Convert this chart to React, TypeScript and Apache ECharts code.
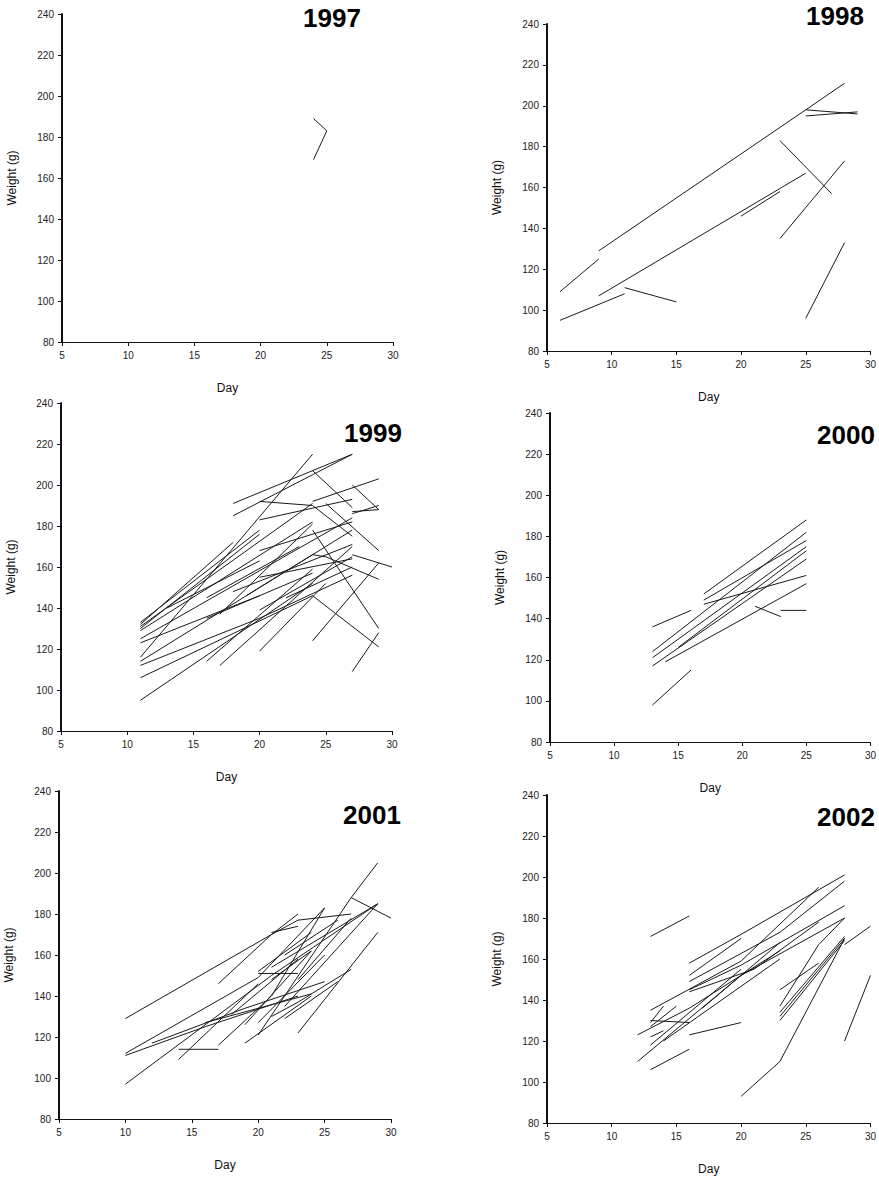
import { useEffect, useRef } from "react";
import * as echarts from "echarts";

// Individual growth tracks: each track is a list of [day, weight (g)] points.
const tracks1997 = [
  [[24, 169], [25, 183]],
  [[24, 189], [25, 183]],
];

const tracks1998 = [
  [[6, 109], [9, 125]],
  [[9, 129], [25, 198], [28, 211]],
  [[25, 198], [29, 196]],
  [[25, 195], [29, 197]],
  [[9, 107], [25, 167]],
  [[20, 146], [23, 158]],
  [[6, 95], [11, 108]],
  [[11, 111], [15, 104]],
  [[23, 183], [27, 157]],
  [[23, 135], [28, 173]],
  [[25, 96], [28, 133]],
];

const tracks1999 = [
  [[11, 95], [24, 152]],
  [[11, 106], [24, 146], [29, 121]],
  [[11, 112], [20, 135], [27, 156]],
  [[11, 114], [24, 166], [25, 165], [29, 154]],
  [[11, 116], [24, 215]],
  [[11, 133], [20, 178]],
  [[11, 132], [18, 172]],
  [[11, 131], [24, 191]],
  [[11, 130], [20, 176]],
  [[11, 129], [24, 182]],
  [[11, 125], [27, 184]],
  [[11, 123], [20, 146]],
  [[16, 114], [24, 159]],
  [[17, 112], [27, 170]],
  [[18, 191], [27, 215]],
  [[18, 185], [24, 205], [27, 215]],
  [[20, 192], [24, 190], [27, 175]],
  [[20, 183], [27, 193]],
  [[20, 168], [27, 182]],
  [[20, 119], [25, 152]],
  [[24, 207], [27, 189]],
  [[24, 192], [29, 203]],
  [[25, 191], [29, 168]],
  [[24, 178], [29, 130]],
  [[24, 124], [29, 162]],
  [[27, 109], [29, 128]],
  [[27, 166], [30, 160]],
  [[27, 200], [29, 188]],
  [[27, 186], [29, 190]],
  [[27, 187], [29, 188]],
  [[17, 137], [24, 181]],
  [[18, 148], [27, 171]],
  [[20, 139], [27, 165]],
  [[16, 135], [24, 157]],
  [[19, 146], [27, 178]],
  [[20, 155], [27, 164]],
  [[22, 145], [27, 160]],
  [[13, 140], [20, 163]],
  [[16, 145], [23, 170]],
];

const tracks2000 = [
  [[13, 136], [16, 144]],
  [[13, 98], [16, 115]],
  [[13, 124], [25, 182]],
  [[13, 121], [25, 175]],
  [[13, 117], [25, 169]],
  [[14, 119], [25, 157]],
  [[15, 126], [25, 173]],
  [[17, 152], [25, 188]],
  [[17, 149], [25, 178]],
  [[17, 147], [25, 161]],
  [[21, 146], [23, 141]],
  [[23, 144], [25, 144]],
];

const tracks2001 = [
  [[10, 129], [21, 170], [23, 177], [27, 180]],
  [[10, 112], [20, 149], [25, 183]],
  [[10, 111], [16, 125], [23, 140]],
  [[10, 97], [21, 150], [29, 185]],
  [[14, 114], [17, 114]],
  [[14, 109], [20, 146]],
  [[17, 146], [21, 170], [23, 180]],
  [[17, 116], [21, 140], [25, 183]],
  [[19, 117], [24, 140]],
  [[19, 126], [24, 162]],
  [[20, 151], [23, 151]],
  [[20, 152], [24, 171]],
  [[21, 130], [23, 137], [27, 153]],
  [[23, 122], [29, 171]],
  [[20, 121], [27, 188], [29, 205]],
  [[27, 188], [30, 178]],
  [[21, 154], [29, 185]],
  [[22, 135], [29, 185]],
  [[16, 127], [24, 141]],
  [[21, 171], [23, 174]],
  [[22, 160], [26, 177]],
  [[23, 148], [27, 178]],
  [[12, 117], [19, 134], [25, 147]],
  [[20, 127], [25, 160]],
  [[21, 148], [24, 162]],
  [[22, 129], [26, 147]],
  [[18, 131], [23, 158]],
];

const tracks2002 = [
  [[13, 171], [16, 181]],
  [[16, 158], [20, 172], [28, 201]],
  [[16, 152], [20, 170]],
  [[16, 149], [23, 173], [28, 198]],
  [[16, 145], [20, 157], [28, 186]],
  [[13, 135], [20, 159], [26, 195]],
  [[12, 123], [16, 136], [23, 164]],
  [[12, 110], [20, 152], [28, 180]],
  [[13, 130], [16, 129]],
  [[13, 129], [14, 137]],
  [[13, 127], [15, 137]],
  [[13, 122], [14, 125]],
  [[13, 118], [20, 155]],
  [[13, 106], [16, 116]],
  [[16, 123], [20, 129]],
  [[16, 144], [21, 155], [26, 178]],
  [[20, 93], [23, 110], [28, 170]],
  [[23, 145], [26, 158]],
  [[23, 137], [26, 167], [28, 180]],
  [[23, 134], [28, 171]],
  [[23, 132], [28, 170]],
  [[23, 130], [28, 169]],
  [[28, 120], [30, 152]],
  [[28, 167], [30, 176]],
  [[14, 120], [23, 160]],
  [[17, 136], [23, 168]],
];

const years = ["1997", "1998", "1999", "2000", "2001", "2002"];
const yearTracks = [tracks1997, tracks1998, tracks1999, tracks2000, tracks2001, tracks2002];

const dayRange = [5, 30];
const dayStep = 5;
const weightRange = [80, 240];
const weightStep = 20;

const xTitle = "Day";
const yTitle = "Weight (g)";

// Panel plot areas and year-label anchors (pixels)
const layouts = [
  { grid: { left: 62, top: 14, width: 331, height: 328 }, label: [332, 18] },
  { grid: { left: 547, top: 24, width: 327, height: 327 }, label: [835, 16] },
  { grid: { left: 61, top: 403, width: 331, height: 328 }, label: [373, 433] },
  { grid: { left: 550, top: 413, width: 327, height: 329 }, label: [846, 435] },
  { grid: { left: 59, top: 791, width: 332, height: 328 }, label: [372, 815] },
  { grid: { left: 547, top: 795, width: 327, height: 328 }, label: [846, 817] },
];

const FONT = "'Liberation Sans', Arial, Helvetica, sans-serif";

export default function App() {
  const ref = useRef<HTMLDivElement>(null);

  useEffect(() => {
    if (!ref.current) return;
    const chart = echarts.init(ref.current, null, { renderer: "svg" });

    const grids = layouts.map((l) => ({ ...l.grid, containLabel: false }));

    const xAxes = layouts.map((_, i) => ({
      type: "value",
      gridIndex: i,
      min: dayRange[0],
      max: dayRange[1],
      interval: dayStep,
      name: xTitle,
      nameLocation: "middle",
      nameGap: 40,
      nameTextStyle: { fontFamily: FONT, fontSize: 12, color: "#111" },
      axisLine: { show: true, onZero: false, lineStyle: { color: "#111", width: 1 } },
      axisTick: { show: true, length: 4, lineStyle: { color: "#111" } },
      axisLabel: { fontFamily: FONT, fontSize: 10, color: "#222", margin: 8 },
      splitLine: { show: false },
    }));

    const yAxes = layouts.map((_, i) => ({
      type: "value",
      gridIndex: i,
      min: weightRange[0],
      max: weightRange[1],
      interval: weightStep,
      name: yTitle,
      nameLocation: "middle",
      nameGap: 44,
      nameTextStyle: { fontFamily: FONT, fontSize: 12, color: "#111" },
      axisLine: { show: true, onZero: false, lineStyle: { color: "#111", width: 2 } },
      axisTick: { show: true, length: 4, lineStyle: { color: "#111" } },
      axisLabel: { fontFamily: FONT, fontSize: 10, color: "#222", margin: 8 },
      splitLine: { show: false },
    }));

    const series: any[] = [];
    yearTracks.forEach((tracks, i) => {
      tracks.forEach((track, j) => {
        series.push({
          type: "line",
          name: `${years[i]}-${j}`,
          xAxisIndex: i,
          yAxisIndex: i,
          data: track,
          symbol: "none",
          lineStyle: { color: "#1a1a1a", width: 1 },
          silent: true,
        });
      });
    });

    const labels = layouts.map((l, i) => ({
      type: "text",
      x: l.label[0],
      y: l.label[1],
      style: {
        text: years[i],
        align: "center",
        verticalAlign: "middle",
        textAlign: "center",
        textVerticalAlign: "middle",
        font: `bold 26px ${FONT}`,
        fill: "#000",
      },
    }));

    chart.setOption({
      animation: false,
      backgroundColor: "#fff",
      grid: grids,
      xAxis: xAxes,
      yAxis: yAxes,
      series,
      graphic: labels,
    });

    return () => chart.dispose();
  }, []);

  return (
    <div
      ref={ref}
      style={{ position: "absolute", left: 0, top: 0, width: 879, height: 1179 }}
    />
  );
}
